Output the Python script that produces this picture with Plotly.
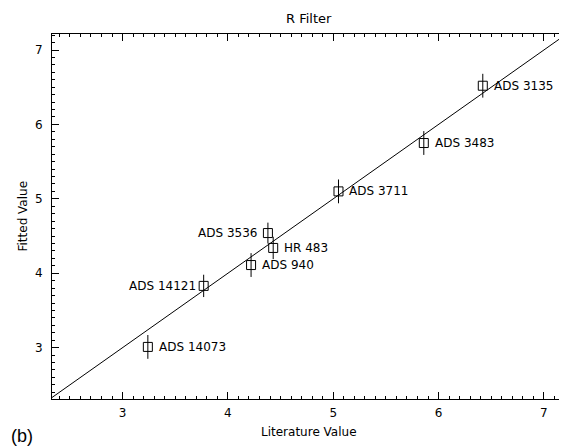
import plotly.graph_objects as go

# Data
names = ["ADS 3135", "ADS 3483", "ADS 3711", "ADS 3536", "HR 483", "ADS 940", "ADS 14121", "ADS 14073"]
literature = [6.42, 5.86, 5.05, 4.38, 4.43, 4.22, 3.77, 3.24]
fitted = [6.52, 5.75, 5.10, 4.54, 4.34, 4.11, 3.83, 3.01]
fitted_err = [0.16, 0.16, 0.16, 0.14, 0.15, 0.16, 0.15, 0.16]
fit_line = [2.33, 7.21]
x_range = [2.33, 7.21]
y_range = [2.31, 7.215]
tick_vals = [3, 4, 5, 6, 7]

# label placement (style): pixel shift from the point
label_shift = {"ADS 3536": -9, "ADS 14121": -6}

FONT = "DejaVu Sans"
FS = 12

fig = go.Figure()
fig.add_trace(go.Scatter(
    x=fit_line, y=fit_line, mode="lines",
    line=dict(color="black", width=1), hoverinfo="skip", showlegend=False))
fig.add_trace(go.Scatter(
    x=literature, y=fitted, mode="markers",
    marker=dict(symbol="square-open", size=9, color="black", line=dict(width=1)),
    error_y=dict(type="data", array=fitted_err, visible=True, color="black", thickness=1, width=0),
    showlegend=False))

for n, xv, yv in zip(names, literature, fitted):
    s = label_shift.get(n, 9)
    fig.add_annotation(
        x=xv, y=yv, text=n, showarrow=False,
        xanchor="left" if s > 0 else "right", xshift=s,
        font=dict(family=FONT, size=FS, color="black"))

# titles as annotations for exact placement
fig.add_annotation(x=0.5, y=1, xref="paper", yref="paper", text="R Filter",
                   showarrow=False, xanchor="center", yanchor="bottom", yshift=6,
                   font=dict(family=FONT, size=13, color="black"))
fig.add_annotation(x=0.5, y=0, xref="paper", yref="paper", text="Literature Value",
                   showarrow=False, xanchor="center", yanchor="middle", yshift=-33,
                   font=dict(family=FONT, size=FS, color="black"))
fig.add_annotation(x=0, y=0.5, xref="paper", yref="paper", text="Fitted Value",
                   showarrow=False, xanchor="center", yanchor="middle", xshift=-30,
                   textangle=-90, font=dict(family=FONT, size=FS, color="black"))
fig.add_annotation(x=0, y=0, xref="paper", yref="paper", text="(b)",
                   showarrow=False, xanchor="center", yanchor="middle",
                   xshift=-30, yshift=-37,
                   font=dict(family="Liberation Sans", size=18, color="black"))

axis_common = dict(
    automargin=False,
    showgrid=False, zeroline=False, showline=True, linecolor="black", linewidth=1,
    mirror="allticks", ticks="inside", ticklen=7, tickwidth=1, tickcolor="black",
    tickvals=tick_vals, tickfont=dict(family=FONT, size=FS, color="black"),
    minor=dict(dtick=0.1, ticks="inside", ticklen=3, tickwidth=1, tickcolor="black"),
)

# page body has an 8px margin, so the figure is sized to end at the window edge
fig.update_layout(
    width=559, height=439,
    margin=dict(l=44, r=1, t=26, b=48, autoexpand=False),
    paper_bgcolor="white", plot_bgcolor="white",
    xaxis=dict(range=x_range, ticklabelstandoff=3, **axis_common),
    yaxis=dict(range=y_range, ticklabelstandoff=6, **axis_common),
)

fig.write_html("out.html")
